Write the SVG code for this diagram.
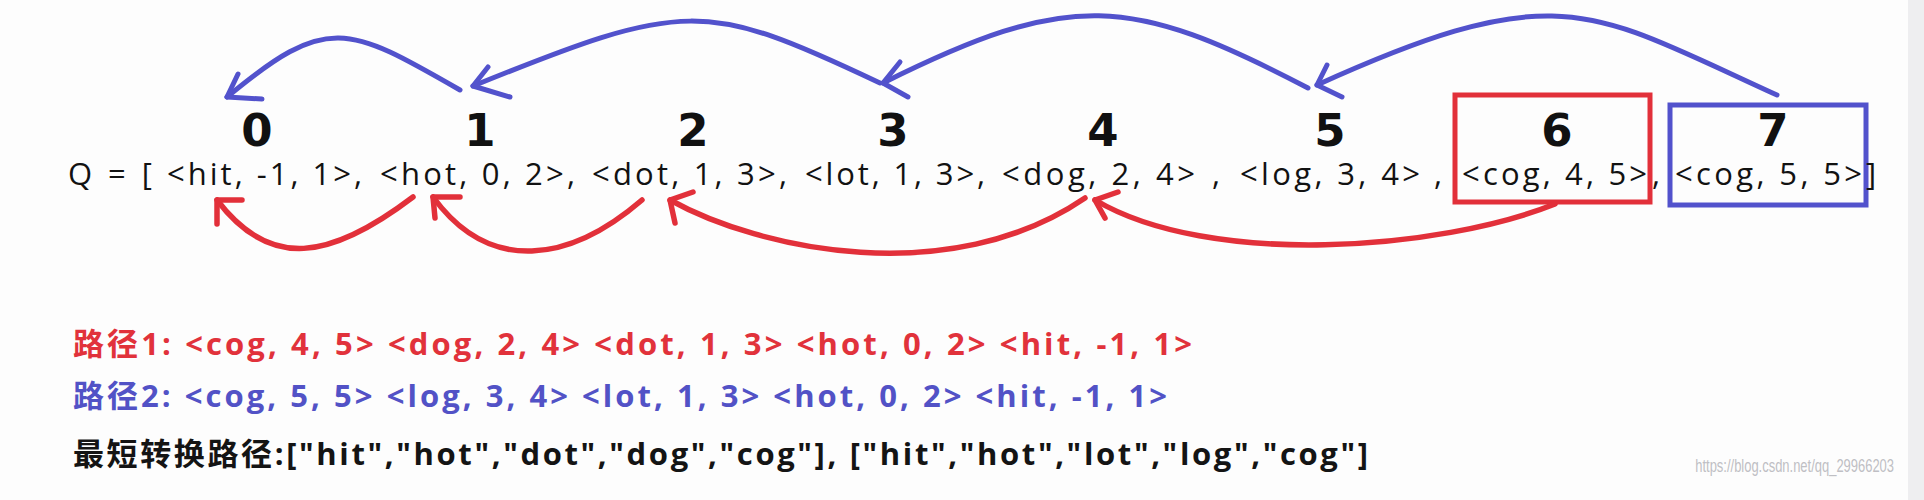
<svg xmlns="http://www.w3.org/2000/svg" width="1924" height="500" viewBox="0 0 1924 500">
  <style>
    .idx { font-family: "DejaVu Sans", "Liberation Sans", sans-serif; font-weight: bold; font-size: 45px; fill: #111; text-anchor: middle; }
    .q { font-family: "Open Sans", "Liberation Sans", sans-serif; font-size: 31px; fill: #121212; }
    .p { font-family: "Open Sans", "Noto Sans CJK SC", sans-serif; font-weight: bold; font-size: 31px; }
    .red { fill: #e1323b; }
    .blue { fill: #5252c6; }
    .black { fill: #141414; }
    .cb { fill: none; stroke: #5252cc; stroke-width: 5; stroke-linecap: round; stroke-linejoin: round; }
    .cr { fill: none; stroke: #e2303a; stroke-width: 5.5; stroke-linecap: round; stroke-linejoin: round; }
    .wm { font-family: "Liberation Sans", sans-serif; font-size: 18px; fill: #bfbfc4; text-anchor: end; }
  </style>
  <rect x="0" y="0" width="1924" height="500" fill="#fdfdfd"/>
  <rect x="1908" y="0" width="16" height="500" fill="#eeeef0"/>

  <g id="q-prefix">
    <text class="q" x="68" y="185" textLength="84" lengthAdjust="spacing">Q = [</text>
  </g>
  <g id="node-0">
    <text class="idx" x="257" y="146">0</text>
    <text class="q" x="167" y="185" textLength="195" lengthAdjust="spacing">&lt;hit, -1, 1&gt;,</text>
  </g>
  <g id="node-1">
    <text class="idx" x="480" y="146">1</text>
    <text class="q" x="380" y="185" textLength="195" lengthAdjust="spacing">&lt;hot, 0, 2&gt;,</text>
  </g>
  <g id="node-2">
    <text class="idx" x="693" y="146">2</text>
    <text class="q" x="592" y="185" textLength="195" lengthAdjust="spacing">&lt;dot, 1, 3&gt;,</text>
  </g>
  <g id="node-3">
    <text class="idx" x="893" y="146">3</text>
    <text class="q" x="805" y="185" textLength="180" lengthAdjust="spacing">&lt;lot, 1, 3&gt;,</text>
  </g>
  <g id="node-4">
    <text class="idx" x="1103" y="146">4</text>
    <text class="q" x="1002" y="185" textLength="193" lengthAdjust="spacing">&lt;dog, 2, 4&gt;</text>
    <text class="q" x="1212" y="185">,</text>
  </g>
  <g id="node-5">
    <text class="idx" x="1330" y="146">5</text>
    <text class="q" x="1240" y="185" textLength="180" lengthAdjust="spacing">&lt;log, 3, 4&gt;</text>
    <text class="q" x="1434" y="185">,</text>
  </g>
  <g id="node-6">
    <rect x="1455" y="95" width="195" height="107" fill="none" stroke="#e2303a" stroke-width="5"/>
    <text class="idx" x="1557" y="146">6</text>
    <text class="q" x="1462" y="185" textLength="185" lengthAdjust="spacing">&lt;cog, 4, 5&gt;</text>
    <text class="q" x="1652" y="185">,</text>
  </g>
  <g id="node-7">
    <rect x="1670" y="105" width="196" height="100" fill="none" stroke="#5252cc" stroke-width="5"/>
    <text class="idx" x="1773" y="146">7</text>
    <text class="q" x="1675" y="185" textLength="187" lengthAdjust="spacing">&lt;cog, 5, 5&gt;</text>
    <text class="q" x="1866" y="185">]</text>
  </g>

  <g id="connectors">
    <!-- blue: path 2 back-pointers (top) -->
    <path class="cb" d="M460,90 C347,25 327,14 227,97"/>
    <polyline class="cb" points="238,74 227,97 262,99"/>
    <path class="cb" d="M880,83 C705,0 685,0 473,86"/>
    <polyline class="cb" points="488,67 473,86 510,97"/>
    <path class="cb" d="M1308,88 C1130,-5 1070,-10 883,83"/>
    <polyline class="cb" points="900,62 883,83 908,97"/>
    <path class="cb" d="M1777,95 C1590,10 1560,-25 1317,85"/>
    <polyline class="cb" points="1327,65 1317,85 1342,97"/>
    <!-- red: path 1 back-pointers (bottom) -->
    <path class="cr" d="M413,197 C330,260 270,270 217,200"/>
    <polyline class="cr" points="242,200 217,200 217,224"/>
    <path class="cr" d="M642,200 C570,262 490,275 433,197"/>
    <polyline class="cr" points="460,197 433,197 435,218"/>
    <path class="cr" d="M1085,198 C950,290 760,250 670,200"/>
    <polyline class="cr" points="693,192 670,200 675,223"/>
    <path class="cr" d="M1555,204 C1440,250 1210,268 1095,200"/>
    <polyline class="cr" points="1118,192 1095,200 1105,218"/>
  </g>

  <g id="paths-text">
    <text class="p red" x="73" y="355" textLength="1119" lengthAdjust="spacing">路径1: &lt;cog, 4, 5&gt; &lt;dog, 2, 4&gt; &lt;dot, 1, 3&gt; &lt;hot, 0, 2&gt; &lt;hit, -1, 1&gt;</text>
    <text class="p blue" x="73" y="407" textLength="1094" lengthAdjust="spacing">路径2: &lt;cog, 5, 5&gt; &lt;log, 3, 4&gt; &lt;lot, 1, 3&gt; &lt;hot, 0, 2&gt; &lt;hit, -1, 1&gt;</text>
    <text class="p black" x="73" y="465" textLength="1295" lengthAdjust="spacing">最短转换路径:["hit","hot","dot","dog","cog"], ["hit","hot","lot","log","cog"]</text>
  </g>
  <text class="wm" transform="translate(1894,472) scale(0.72,1)" x="0" y="0">https://blog.csdn.net/qq_29966203</text>
</svg>
